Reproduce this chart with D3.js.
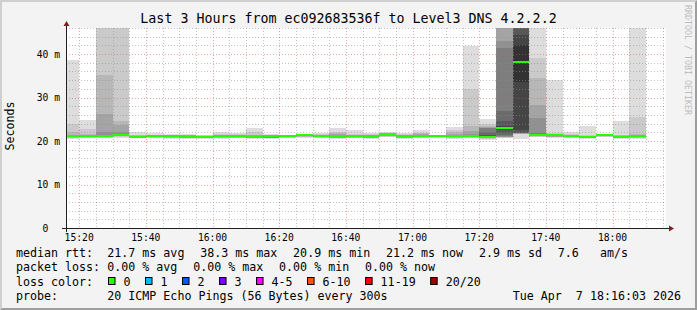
<!DOCTYPE html>
<html>
<head>
<meta charset="utf-8">
<script src="https://cdn.jsdelivr.net/npm/d3@7"></script>
<style>
  body { margin: 0; background: #f3f3f3; }
  svg text { font-family: "DejaVu Sans Mono", monospace; white-space: pre; }
</style>
</head>
<body>
<div id="chart"></div>
<script>
// smokeping data, one bar per 5 minute step (value stamped at step end)
const startTime = "15:16:03";
const endTime = "18:16:03";
const times = ["15:20", "15:25", "15:30", "15:35", "15:40", "15:45", "15:50", "15:55",
  "16:00", "16:05", "16:10", "16:15", "16:20", "16:25", "16:30", "16:35", "16:40",
  "16:45", "16:50", "16:55", "17:00", "17:05", "17:10", "17:15", "17:20", "17:25",
  "17:30", "17:35", "17:40", "17:45", "17:50", "17:55", "18:00", "18:05", "18:10"];
const median = [21.1, 21.2, 21.2, 21.5, 21.0, 21.1, 21.1, 20.9, 20.9, 21.2, 21.2, 21.0,
  21.1, 21.1, 21.3, 21.2, 21.1, 21.2, 21.2, 21.4, 21.2, 21.2, 21.2, 21.2, 21.2, 20.9,
  23.1, 38.2, 21.5, 21.3, 21.1, 20.9, 21.4, 20.9, 21.2];
const loss = [0, 0, 0, 0, 0, 0, 0, 0, 0, 0, 0, 0, 0, 0, 0, 0, 0, 0, 0, 0, 0, 0, 0, 0, 0,
  0, 0, 0, 0, 0, 0, 0, 0, 0, 0];
// 20 sorted ping rtts (ms) per step
const pings = [
  [20.5, 20.7, 20.8, 20.9, 21.0, 21.0, 21.0, 21.1, 21.1, 21.1, 21.1, 21.1, 21.2, 21.2, 21.2, 21.3, 21.4, 22.0, 23.9, 38.7],
  [20.6, 20.8, 20.9, 21.0, 21.0, 21.1, 21.1, 21.1, 21.2, 21.2, 21.2, 21.2, 21.3, 21.3, 21.3, 21.4, 21.5, 21.7, 22.8, 24.8],
  [20.6, 20.8, 20.9, 21.0, 21.1, 21.1, 21.1, 21.2, 21.2, 21.2, 21.2, 21.3, 21.3, 21.4, 21.5, 22.0, 26.2, 35.3, 48, 48],
  [20.8, 21.0, 21.1, 21.2, 21.3, 21.3, 21.4, 21.4, 21.5, 21.5, 21.5, 21.5, 21.6, 21.6, 21.7, 22.0, 23.8, 24.5, 48, 48],
  [20.6, 20.7, 20.8, 20.8, 20.9, 20.9, 21.0, 21.0, 21.0, 21.0, 21.0, 21.0, 21.1, 21.1, 21.1, 21.2, 21.2, 21.3, 21.5, 22.0],
  [20.6, 20.8, 20.9, 20.9, 21.0, 21.0, 21.0, 21.1, 21.1, 21.1, 21.1, 21.1, 21.1, 21.2, 21.2, 21.2, 21.3, 21.4, 21.5, 21.8],
  [20.5, 20.7, 20.8, 20.9, 21.0, 21.0, 21.0, 21.1, 21.1, 21.1, 21.1, 21.1, 21.2, 21.2, 21.2, 21.3, 21.3, 21.4, 21.5, 21.7],
  [20.5, 20.6, 20.7, 20.8, 20.8, 20.8, 20.9, 20.9, 20.9, 20.9, 20.9, 21.0, 21.0, 21.0, 21.1, 21.2, 21.4, 21.5, 21.5, 21.6],
  [20.5, 20.6, 20.7, 20.7, 20.8, 20.8, 20.8, 20.9, 20.9, 20.9, 20.9, 20.9, 21.0, 21.0, 21.0, 21.1, 21.1, 21.2, 21.3, 21.5],
  [20.5, 20.7, 20.8, 20.9, 21.0, 21.0, 21.1, 21.1, 21.1, 21.2, 21.2, 21.2, 21.2, 21.3, 21.3, 21.3, 21.4, 21.5, 21.7, 22.0],
  [20.6, 20.7, 20.8, 20.9, 20.9, 21.0, 21.0, 21.1, 21.1, 21.2, 21.2, 21.2, 21.2, 21.3, 21.3, 21.3, 21.4, 21.5, 21.6, 21.8],
  [20.5, 20.6, 20.7, 20.8, 20.8, 20.9, 20.9, 20.9, 21.0, 21.0, 21.0, 21.0, 21.1, 21.1, 21.1, 21.2, 21.3, 21.5, 22.0, 23.1],
  [20.5, 20.6, 20.7, 20.8, 20.8, 20.9, 20.9, 21.0, 21.0, 21.1, 21.1, 21.1, 21.1, 21.2, 21.2, 21.2, 21.3, 21.3, 21.4, 21.6],
  [20.7, 20.8, 20.9, 20.9, 21.0, 21.0, 21.0, 21.1, 21.1, 21.1, 21.1, 21.1, 21.1, 21.2, 21.2, 21.2, 21.2, 21.3, 21.3, 21.4],
  [20.8, 20.9, 21.0, 21.1, 21.1, 21.2, 21.2, 21.2, 21.3, 21.3, 21.3, 21.3, 21.3, 21.4, 21.4, 21.4, 21.4, 21.4, 21.5, 21.5],
  [20.6, 20.8, 20.9, 21.0, 21.0, 21.1, 21.1, 21.1, 21.1, 21.2, 21.2, 21.2, 21.3, 21.3, 21.3, 21.4, 21.4, 21.5, 21.6, 21.8],
  [20.4, 20.6, 20.7, 20.8, 20.9, 20.9, 21.0, 21.0, 21.1, 21.1, 21.1, 21.1, 21.2, 21.2, 21.3, 21.4, 21.6, 21.9, 22.0, 23.1],
  [20.6, 20.7, 20.8, 20.9, 21.0, 21.0, 21.1, 21.1, 21.2, 21.2, 21.2, 21.2, 21.3, 21.3, 21.3, 21.4, 21.4, 21.5, 21.7, 22.6],
  [20.4, 20.6, 20.7, 20.8, 20.9, 21.0, 21.0, 21.1, 21.1, 21.2, 21.2, 21.2, 21.2, 21.3, 21.3, 21.3, 21.4, 21.5, 21.6, 21.8],
  [20.9, 21.0, 21.1, 21.2, 21.2, 21.3, 21.3, 21.3, 21.4, 21.4, 21.4, 21.4, 21.5, 21.5, 21.6, 21.7, 21.8, 21.9, 21.9, 22.0],
  [20.4, 20.6, 20.7, 20.8, 20.9, 21.0, 21.0, 21.1, 21.1, 21.2, 21.2, 21.2, 21.2, 21.3, 21.3, 21.3, 21.4, 21.5, 21.6, 21.8],
  [20.6, 20.8, 20.9, 21.0, 21.0, 21.1, 21.1, 21.1, 21.2, 21.2, 21.2, 21.2, 21.3, 21.3, 21.4, 21.5, 21.6, 21.8, 21.9, 22.5],
  [20.8, 20.9, 21.0, 21.0, 21.1, 21.1, 21.1, 21.2, 21.2, 21.2, 21.2, 21.2, 21.2, 21.3, 21.3, 21.3, 21.3, 21.4, 21.4, 21.5],
  [20.5, 20.7, 20.8, 20.9, 21.0, 21.0, 21.1, 21.1, 21.1, 21.2, 21.2, 21.2, 21.3, 21.3, 21.4, 21.5, 21.7, 22.0, 22.5, 23.3],
  [20.6, 20.8, 20.9, 21.0, 21.0, 21.1, 21.1, 21.2, 21.2, 21.2, 21.2, 21.3, 21.3, 21.4, 21.5, 21.7, 22.3, 23.5, 32.0, 41.9],
  [20.3, 20.5, 20.6, 20.7, 20.7, 20.8, 20.8, 20.8, 20.9, 20.9, 20.9, 21.0, 21.5, 22.0, 22.9, 23.0, 23.2, 23.5, 23.9, 25.1],
  [20.6, 20.8, 20.9, 21.0, 21.0, 21.2, 21.4, 21.9, 22.6, 23.0, 23.2, 23.5, 24.5, 26.8, 41.5, 42.9, 48, 48, 48, 48],
  [20.5, 21.6, 21.7, 21.7, 21.8, 21.8, 21.8, 21.9, 22.5, 33.6, 42.1, 44.5, 48, 48, 48, 48, 48, 48, 48, 48],
  [20.9, 21.0, 21.1, 21.2, 21.3, 21.3, 21.4, 21.4, 21.5, 21.5, 21.5, 21.6, 21.6, 21.7, 21.8, 25.2, 28.3, 34.4, 39.0, 48],
  [20.7, 20.9, 21.0, 21.0, 21.1, 21.1, 21.2, 21.2, 21.3, 21.3, 21.3, 21.3, 21.4, 21.4, 21.5, 21.5, 21.6, 21.7, 21.9, 34.0],
  [20.6, 20.8, 20.9, 20.9, 21.0, 21.0, 21.0, 21.1, 21.1, 21.1, 21.1, 21.1, 21.2, 21.2, 21.2, 21.3, 21.3, 21.4, 21.6, 22.0],
  [20.5, 20.6, 20.7, 20.7, 20.8, 20.8, 20.8, 20.9, 20.9, 20.9, 20.9, 20.9, 21.0, 21.0, 21.0, 21.1, 21.1, 21.2, 21.4, 23.5],
  [20.9, 21.0, 21.1, 21.2, 21.2, 21.3, 21.3, 21.3, 21.4, 21.4, 21.4, 21.4, 21.5, 21.5, 21.5, 21.5, 21.5, 21.6, 21.6, 21.6],
  [20.4, 20.6, 20.7, 20.7, 20.8, 20.8, 20.8, 20.9, 20.9, 20.9, 20.9, 20.9, 21.0, 21.0, 21.0, 21.1, 21.2, 21.3, 21.5, 24.6],
  [20.5, 20.7, 20.8, 20.9, 21.0, 21.0, 21.1, 21.1, 21.2, 21.2, 21.2, 21.2, 21.3, 21.3, 21.3, 21.4, 21.5, 21.7, 25.6, 48]
];
const yTicks = [0, 10, 20, 30, 40];
const xLabels = ["15:20", "15:40", "16:00", "16:20", "16:40", "17:00", "17:20", "17:40", "18:00"];
const lossLabels = ["0", "1", "2", "3", "4-5", "6-10", "11-19", "20/20"];
const lossColors = ["#26ff00", "#00b8ff", "#0059ff", "#7e00ff", "#ff00ff", "#ff5500", "#ff0000", "#a10000"];
const rttStats = ["21.7 ms avg", "38.3 ms max", "20.9 ms min", "21.2 ms now", "2.9 ms sd", "7.6   am/s"];
const lossStats = ["0.00 % avg", "0.00 % max", "0.00 % min", "0.00 % now"];
const title = "Last 3 Hours from ec092683536f to Level3 DNS 4.2.2.2";
const probe = "20 ICMP Echo Pings (56 Bytes) every 300s";
const stamp = "Tue Apr  7 18:16:03 2026";

const width = 697, height = 310;
// smoke shades, outermost pair of pings first
const smoke = ["#dddddd", "#cacaca", "#b7b7b7", "#a4a4a4", "#919191",
  "#7e7e7e", "#6b6b6b", "#585858", "#454545", "#323232"];

var parseHM = d3.timeParse("%H:%M");
var parseHMS = d3.timeParse("%H:%M:%S");

const x = d3.scaleTime()
  .domain([parseHMS(startTime), parseHMS(endTime)])
  .range([66, 666]);
const y = d3.scaleLinear()
  .domain([0, 46])
  .range([228, 28]);

const svg = d3.select("#chart")
  .append("svg")
  .attr("width", width)
  .attr("height", height);

svg.append("rect").attr("width", width).attr("height", height).attr("fill", "#f3f3f3");
// 3d frame
svg.append("path").attr("d", "M0,0H697L695,2H2V308L0,310Z").attr("fill", "#cfcfcf");
svg.append("path").attr("d", "M697,0V310H0L2,308H695V2Z").attr("fill", "#9e9e9e");

svg.append("rect")
  .attr("x", x.range()[0]).attr("y", y.range()[1])
  .attr("width", x.range()[1] - x.range()[0])
  .attr("height", y.range()[0] - y.range()[1])
  .attr("fill", "#ffffff");

svg.append("clipPath").attr("id", "plot")
  .append("rect")
  .attr("x", x.range()[0]).attr("y", y.range()[1])
  .attr("width", x.range()[1] - x.range()[0])
  .attr("height", y.range()[0] - y.range()[1]);

const g = svg.append("g").attr("clip-path", "url(#plot)");

times.forEach(function (t, i) {
  var t1 = parseHM(t);
  var t0 = d3.timeMinute.offset(t1, -5);
  var p = pings[i];
  for (var k = 0; k < 10; k++) {
    var lo = p[k], hi = p[19 - k];
    if (hi <= lo) continue;
    g.append("rect")
      .attr("x", x(t0))
      .attr("width", x(t1) - x(t0))
      .attr("y", y(hi))
      .attr("height", y(lo) - y(hi))
      .attr("fill", smoke[k])
      .attr("shape-rendering", "crispEdges");
  }
  g.append("rect")
    .attr("x", x(t0))
    .attr("width", x(t1) - x(t0))
    .attr("y", y(median[i]) - 1)
    .attr("height", 2)
    .attr("fill", lossColors[loss[i]])
    .attr("shape-rendering", "crispEdges");
});

// grid on top of the smoke, like rrdtool
const grid = svg.append("g");
x.ticks(d3.timeMinute.every(5)).forEach(function (d) {
  var major = d.getMinutes() % 20 === 0;
  grid.append("line")
    .attr("x1", Math.round(x(d)) + 0.5).attr("x2", Math.round(x(d)) + 0.5)
    .attr("y1", y.range()[1]).attr("y2", y.range()[0])
    .attr("stroke", major ? "#de4f4f" : "#8f8f8f")
    .attr("stroke-opacity", major ? 0.5 : 0.55)
    .attr("stroke-dasharray", "1,2");
});
d3.range(2, 47, 2).forEach(function (v) {
  var major = v % 10 === 0;
  grid.append("line")
    .attr("x1", x.range()[0]).attr("x2", x.range()[1])
    .attr("y1", Math.round(y(v)) + 0.5).attr("y2", Math.round(y(v)) + 0.5)
    .attr("stroke", major ? "#de4f4f" : "#8f8f8f")
    .attr("stroke-opacity", major ? 0.5 : 0.55)
    .attr("stroke-dasharray", "1,2");
});

// axes
svg.append("line")
  .attr("x1", 62).attr("x2", 670)
  .attr("y1", 228.5).attr("y2", 228.5)
  .attr("stroke", "#1f1f1f");
svg.append("line")
  .attr("x1", 66.5).attr("x2", 66.5)
  .attr("y1", 232).attr("y2", 25)
  .attr("stroke", "#1f1f1f");
svg.append("path").attr("d", "M669,225.5L674,228.5L669,231.5Z").attr("fill", "#7f1f1f");
svg.append("path").attr("d", "M63.5,26L66.5,21L69.5,26Z").attr("fill", "#7f1f1f");

svg.selectAll(".ylab")
  .data(yTicks)
  .enter()
  .append("text")
  .attr("class", "ylab")
  .attr("x", 60)
  .attr("y", function (d) { return y(d) + 3.6; })
  .attr("text-anchor", "end")
  .style("font-size", "9.7px")
  .attr("fill", "#000")
  .text(function (d) { return d === 0 ? "0  " : d + " m"; });

svg.selectAll(".xlab")
  .data(xLabels)
  .enter()
  .append("text")
  .attr("class", "xlab")
  .attr("x", function (d) { return x(parseHM(d)); })
  .attr("y", 240.8)
  .attr("text-anchor", "middle")
  .style("font-size", "9.7px")
  .attr("fill", "#000")
  .text(function (d) { return d; });

svg.append("text")
  .attr("x", 348.5).attr("y", 23.3)
  .attr("text-anchor", "middle")
  .style("font-size", "13.3px")
  .text(title);

svg.append("text")
  .attr("transform", "translate(14,126) rotate(-90)")
  .attr("text-anchor", "middle")
  .style("font-size", "11.65px")
  .text("Seconds");

svg.append("text")
  .attr("transform", "translate(684.5,5) rotate(90)")
  .style("font-size", "8.3px")
  .attr("fill", "#bdbdbd")
  .text("RRDTOOL / TOBI OETIKER");

// legend
const cw = 7.01;
function legendRow(yy, label, items) {
  svg.append("text").attr("x", 16).attr("y", yy).style("font-size", "11.65px").text(label);
  var xx = 107.3;
  items.forEach(function (s) {
    svg.append("text").attr("x", xx).attr("y", yy).style("font-size", "11.65px").text(s);
    xx += s.length * cw + 15.8;
  });
}
legendRow(257.3, "median rtt:", rttStats);
legendRow(271.4, "packet loss:", lossStats);

svg.append("text").attr("x", 16).attr("y", 285.5).style("font-size", "11.65px").text("loss color:");
var lx = 108.5;
lossLabels.forEach(function (s, i) {
  svg.append("rect")
    .attr("x", lx).attr("y", 277.5)
    .attr("width", 6.5).attr("height", 7)
    .attr("fill", lossColors[i])
    .attr("stroke", "#000");
  svg.append("text").attr("x", lx + 15).attr("y", 285.5).style("font-size", "11.65px").text(s);
  lx += 15 + s.length * cw + 15;
});

svg.append("text").attr("x", 16).attr("y", 299.7).style("font-size", "11.65px").text("probe:");
svg.append("text").attr("x", 107.3).attr("y", 299.7).style("font-size", "11.65px").text(probe);
svg.append("text").attr("x", 681).attr("y", 299.7).attr("text-anchor", "end")
  .style("font-size", "11.65px").text(stamp);
</script>
</body>
</html>
